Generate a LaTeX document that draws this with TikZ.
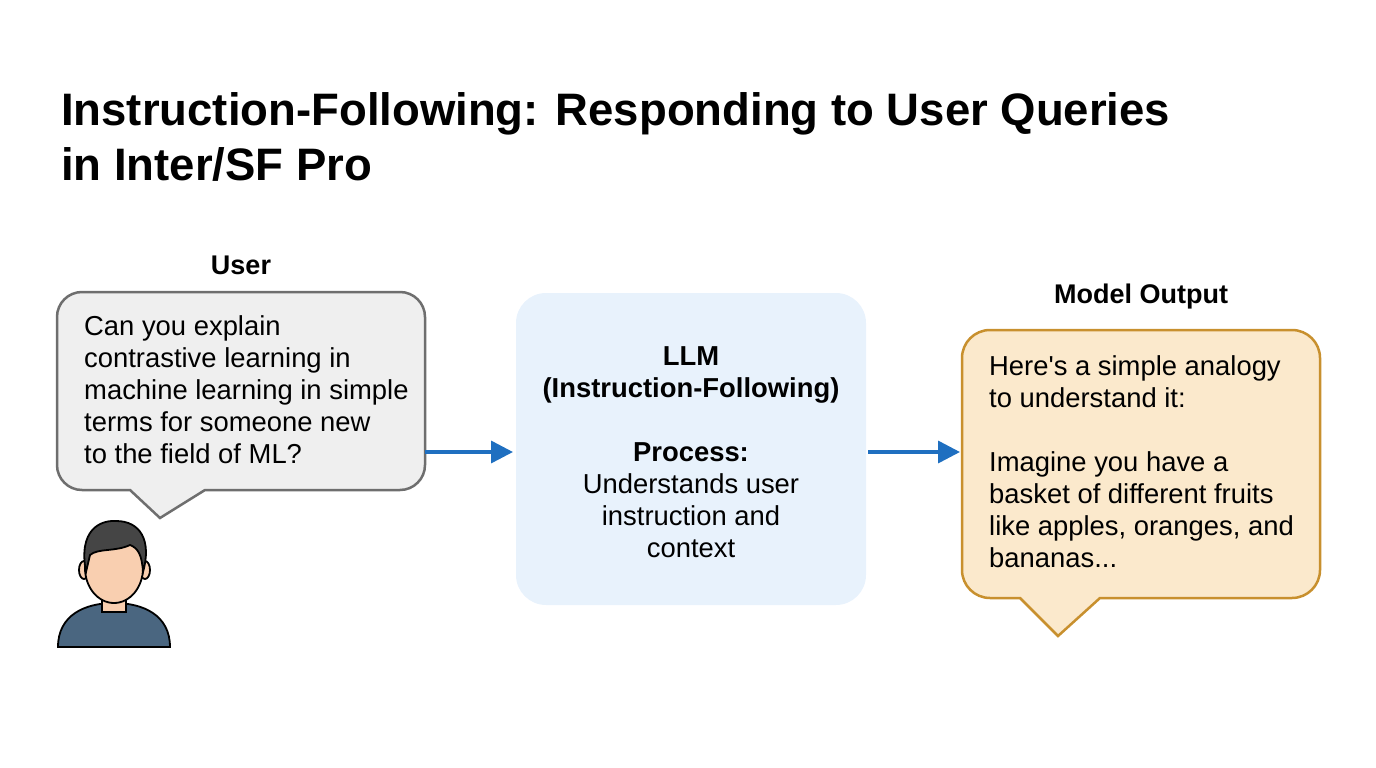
\documentclass[tikz,border=0pt]{standalone}
\usepackage{fontspec}
\setmainfont{Liberation Sans}
\usetikzlibrary{arrows.meta}
\definecolor{ubfill}{HTML}{EFEFEF}
\definecolor{ubdraw}{HTML}{6E6E6E}
\definecolor{llmfill}{HTML}{E8F2FC}
\definecolor{obfill}{HTML}{FBE9CC}
\definecolor{obdraw}{HTML}{C8902E}
\definecolor{arr}{HTML}{1F6FC0}
\definecolor{skin}{HTML}{F9CFB0}
\definecolor{hair}{HTML}{454545}
\definecolor{shirt}{HTML}{4A6680}
\tikzset{
 body/.style={font=\fontsize{27.4}{32}\selectfont, align=left, anchor=north west, inner sep=0pt},
 lbl/.style={font=\fontsize{27}{30}\selectfont\bfseries},
 conn/.style={draw=arr, line width=3.5pt, -{Triangle[length=22pt,width=22pt]}}
}
\begin{document}
\begin{tikzpicture}[x=1pt,y=-1pt]
\useasboundingbox (0,0) rectangle (1376,768);
\node[anchor=north west, inner sep=0pt, align=left, font=\fontsize{45.5}{55}\selectfont\bfseries] (title) at (61,92) {Instruction-Following: Responding to User Queries\\in Inter/SF Pro};
% user bubble
\draw[ubdraw, fill=ubfill, line width=2.5pt] (130,490) -- (160,518) -- (205,490) [rounded corners=25] -- (425,490) -- (425,292) -- (57,292) -- (57,490) [sharp corners] -- cycle;
\node[lbl] (user) at (241,265) {User};
\node[body] (q) at (84,315) {Can you explain\\contrastive learning in\\machine learning in simple\\terms for someone new\\to the field of ML?};
\coordinate (ur) at (425,452);
% LLM box
\fill[llmfill, rounded corners=30] (516,293) rectangle (866,605);
\node[align=center, inner sep=0pt, font=\fontsize{27.4}{32}\selectfont] (llm) at (691,452) {\bfseries LLM\\\bfseries (Instruction-Following)\\[32pt]\bfseries Process:\\Understands user\\instruction and\\context};
\coordinate (ll) at (516,452);
\coordinate (lr) at (866,452);
% output bubble
\draw[obdraw, fill=obfill, line width=2.5pt] (1020,598) -- (1058,636) -- (1100,598) [rounded corners=28] -- (1320,598) -- (1320,330) -- (962,330) -- (962,598) [sharp corners] -- cycle;
\node[lbl] (mo) at (1141,297) {Model Output};
\node[body] (a) at (989,355) {Here\textquotesingle s a simple analogy\\to understand it:\\[32pt]Imagine you have a\\basket of different fruits\\like apples, oranges, and\\bananas...};
\coordinate (ol) at (962,452);
\draw[conn] (ur) -- ([xshift=-3pt]ll);
\draw[conn] ([xshift=2pt]lr) -- ([xshift=-2pt]ol);
% person icon
\draw[fill=shirt, line width=1.8pt] (58,647) .. controls (58,615) and (85,603) .. (114,603) .. controls (143,603) and (170,615) .. (170,647) -- cycle;
\draw[fill=skin, line width=1.8pt] (102,585) rectangle (126,612);
\draw[fill=skin, line width=1.8pt] (84,570) ellipse (5 and 9);
\draw[fill=skin, line width=1.8pt] (145,570) ellipse (5 and 9);
\draw[fill=skin, line width=1.8pt] (114,568) ellipse (29 and 35);
\draw[fill=hair, line width=1.8pt] (86,572) .. controls (78,530) and (100,520) .. (116,521) .. controls (140,521) and (152,540) .. (143,572) .. controls (142,555) and (138,548) .. (130,545) .. controls (115,552) and (98,548) .. (90,555) -- cycle;
\end{tikzpicture}
\end{document}
